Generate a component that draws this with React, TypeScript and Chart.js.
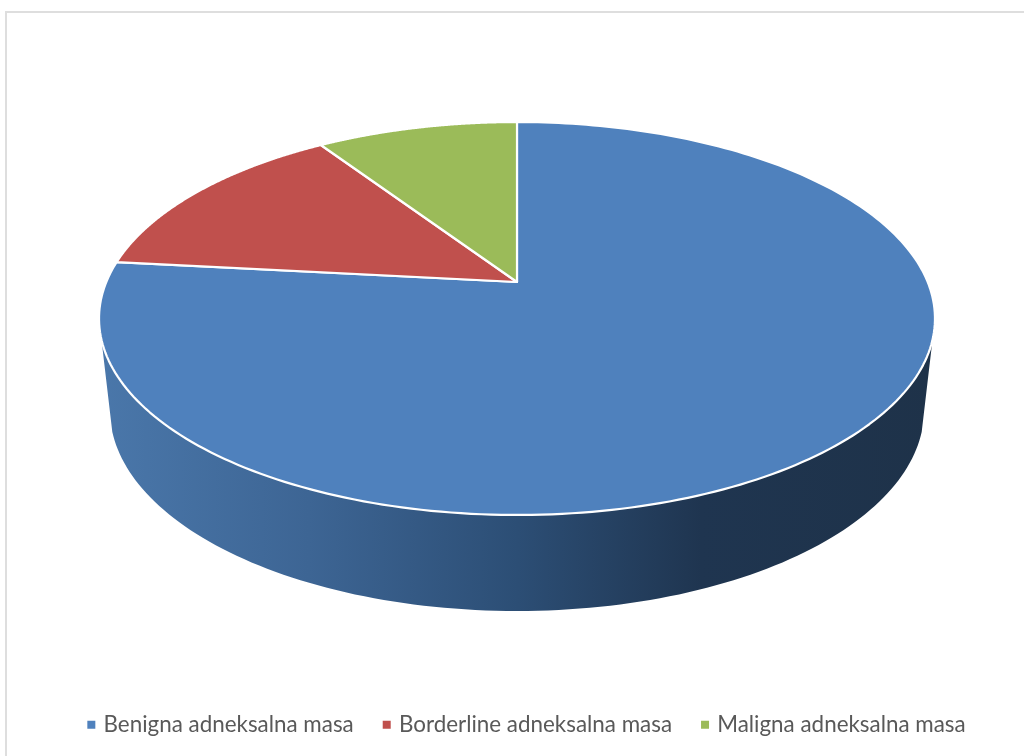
import React, { useEffect, useRef } from "react";
import { Chart, registerables } from "chart.js";

Chart.register(...registerables);

const categories = ["Benigna adneksalna masa", "Borderline adneksalna masa", "Maligna adneksalna masa"];
const values = [76.7, 14.0, 9.3];
const sliceColors = ["#4f81bd", "#c0504d", "#9bbb59"];

// Perspective of the tilted pie: maps angle on the unit circle to the page.
const CX = 517;
const APEX_Y = 282;
const K = 0.1858;
const SCALE_X = 410.7;
const SCALE_Y = -137.3;
const TOP_MID_Y = 318.5;
const RIM_SCALE_X = 0.974;
const RIM_SCALE_Y = 1.023;
const RIM_MID_Y = 410;
const WALL_LIMIT = 0.293;

const project = (a: number) => {
  const u = Math.cos(a);
  const v = -Math.sin(a);
  const w = 1 + K * v;
  return { x: CX + (SCALE_X * u) / w, y: (APEX_Y + SCALE_Y * v) / w };
};
const projectRim = (a: number) => {
  const p = project(a);
  return { x: CX + (p.x - CX) * RIM_SCALE_X, y: RIM_MID_Y + (p.y - TOP_MID_Y) * RIM_SCALE_Y };
};

const pie3d = {
  id: "pie3d",
  beforeDraw(chart: any) {
    const { ctx } = chart;
    ctx.save();
    ctx.strokeStyle = "#dedede";
    ctx.lineWidth = 2;
    ctx.beginPath();
    ctx.moveTo(6, 756);
    ctx.lineTo(6, 12);
    ctx.lineTo(1024, 12);
    ctx.stroke();
    ctx.restore();
  },
  beforeDatasetDraw(chart: any, args: any) {
    const { ctx } = chart;
    const arcs = chart.getDatasetMeta(args.index).data;
    ctx.save();
    const grad = ctx.createLinearGradient(100, 0, 935, 0);
    grad.addColorStop(0, "#4a77aa");
    grad.addColorStop(0.25, "#3d6594");
    grad.addColorStop(0.5, "#2c4e75");
    grad.addColorStop(0.72, "#1f3550");
    grad.addColorStop(1, "#1e3249");
    arcs.forEach((arc: any) => {
      const s = Math.max(arc.startAngle, WALL_LIMIT);
      const e = Math.min(arc.endAngle, Math.PI - WALL_LIMIT);
      if (e <= s) return;
      ctx.beginPath();
      const n = 120;
      for (let i = 0; i <= n; i++) {
        const p = project(s + ((e - s) * i) / n);
        if (i === 0) ctx.moveTo(p.x, p.y);
        else ctx.lineTo(p.x, p.y);
      }
      for (let i = n; i >= 0; i--) {
        const p = projectRim(s + ((e - s) * i) / n);
        ctx.lineTo(p.x, p.y);
      }
      ctx.closePath();
      ctx.fillStyle = grad;
      ctx.fill();
    });
    arcs.forEach((arc: any) => {
      const n = 240;
      ctx.beginPath();
      const apex = { x: CX, y: APEX_Y };
      ctx.moveTo(apex.x, apex.y);
      for (let i = 0; i <= n; i++) {
        const p = project(arc.startAngle + ((arc.endAngle - arc.startAngle) * i) / n);
        ctx.lineTo(p.x, p.y);
      }
      ctx.closePath();
      ctx.fillStyle = arc.options.backgroundColor;
      ctx.strokeStyle = "#ffffff";
      ctx.lineWidth = 2.2;
      ctx.lineJoin = "round";
      ctx.fill();
      ctx.stroke();
    });
    ctx.restore();
    return false;
  },
};

export default function App() {
  const ref = useRef<HTMLCanvasElement>(null);
  useEffect(() => {
    const chart = new Chart(ref.current as HTMLCanvasElement, {
      type: "pie",
      data: {
        labels: categories,
        datasets: [{ data: values, backgroundColor: sliceColors, borderWidth: 0 }],
      },
      options: {
        responsive: false,
        animation: false,
        events: [],
        layout: { padding: { left: 32, bottom: 10 } },
        plugins: {
          tooltip: { enabled: false },
          title: { display: false },
          legend: {
            display: true,
            position: "bottom",
            labels: {
              usePointStyle: true,
              pointStyle: "rect",
              boxWidth: 2,
              boxHeight: 8,
              padding: 32,
              color: "#595959",
              font: { family: "Lato", size: 22.4 },
            },
          },
        },
      },
      plugins: [pie3d],
    } as any);
    return () => chart.destroy();
  }, []);
  return (
    <div style={{ position: "fixed", left: 0, top: 0, width: 1024, height: 756, overflow: "hidden", background: "#fff" }}>
      <canvas ref={ref} width={1024} height={756} style={{ display: "block" }} />
    </div>
  );
}
